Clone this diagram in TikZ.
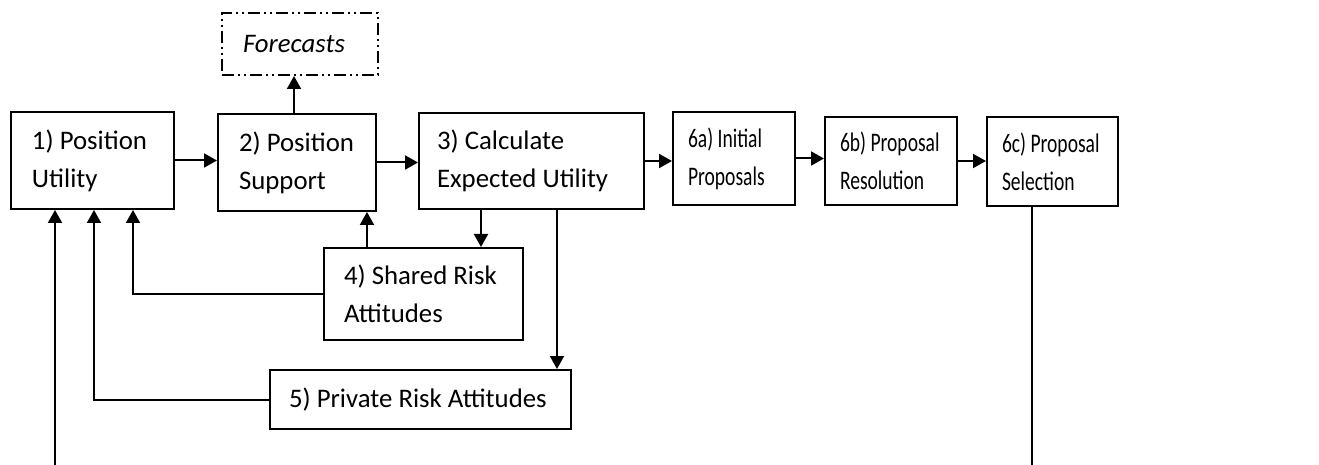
\documentclass[tikz,border=0pt]{standalone}
\usepackage{fontspec}
\usepackage{graphicx}
\setmainfont{Carlito}
\newcommand{\nar}[1]{\scalebox{0.73}[1]{#1}}
\usetikzlibrary{arrows.meta, positioning}

\begin{document}
\begin{tikzpicture}[x=0.5pt,y=-0.5pt,>={Triangle[length=6.5pt,width=7pt]},
    box/.style={draw,line width=1pt,align=flush left,inner ysep=0pt,
        font=\fontsize{13.4}{19}\selectfont},
    fcbox/.style={box,dash pattern=on 6pt off 2pt on 1pt off 2pt on 1pt off 2pt},
    link/.style={line width=1pt}]
    \useasboundingbox (0,0) rectangle (1319,465);
    \node (pu) at (92.5,160.5)[box,minimum height=48.5pt,inner xsep=10.5pt,text width=60.5pt]{1) Position\\Utility};
    \node (ps) at (297,162.5)[box,minimum height=48.5pt,inner xsep=10.5pt,text width=58pt]{2) Position\\Support};
    \node (ce) at (531.5,161)[box,minimum height=48pt,inner xsep=9pt,text width=94.5pt]{3) Calculate\\Expected Utility};
    \node (fc) at (300,44)[fcbox,minimum height=31pt,inner xsep=10.5pt,text width=57pt]{\itshape Forecasts};
    \node (sr) at (423.5,294)[box,minimum height=46pt,inner xsep=10pt,text width=79.5pt]{4) Shared Risk\\Attitudes};
    \node (pr) at (420.5,399.5)[box,minimum height=29.5pt,inner xsep=9.5pt,text width=131.5pt]{5) Private Risk Attitudes};
    \node (ip) at (734,158.5)[box,minimum height=46.5pt,inner xsep=7.5pt,text width=46pt]{\nar{6a) Initial}\\\nar{Proposals}};
    \node (rs) at (891,161)[box,minimum height=44pt,inner xsep=7.5pt,text width=51pt]{\nar{6b) Proposal}\\\nar{Resolution}};
    \node (sl) at (1052.5,161.5)[box,minimum height=44.5pt,inner xsep=7.5pt,text width=50.5pt]{\nar{6c) Proposal}\\\nar{Selection}};
    \coordinate (loopR) at (1032,465);
    \coordinate (loopL) at (55,465);

    \draw[link,->](pu.east)--(pu.east -| ps.west);
    \draw[link,->](ps.east)--(ps.east -| ce.west);
    \draw[link,->](ce.east)--(ce.east -| ip.west);
    \draw[link,->](ip.east)--(ip.east -| rs.west);
    \draw[link,->](rs.east)--(rs.east -| sl.west);
    \draw[link,->]([xshift=-1.5pt]ps.north)--([xshift=-1.5pt]ps.north |- fc.south);
    \draw[link,->]([xshift=-28.25pt]sr.north)--([xshift=-28.25pt]sr.north |- ps.south);
    \draw[link,->]([xshift=-25.25pt]ce.south)--([xshift=-25.25pt]ce.south |- sr.north);
    \draw[link,->]([xshift=12.75pt]ce.south)--([xshift=12.75pt]ce.south |- pr.north);
    \draw[link,->](sr.west)-|([xshift=20.25pt]pu.south);
    \draw[link,->](pr.west)-|([xshift=0.75pt]pu.south);
    \draw[link](sl.south -| loopR)--(loopR);
    \draw[link,->](loopL)--(loopL |- pu.south);
\end{tikzpicture}
\end{document}
